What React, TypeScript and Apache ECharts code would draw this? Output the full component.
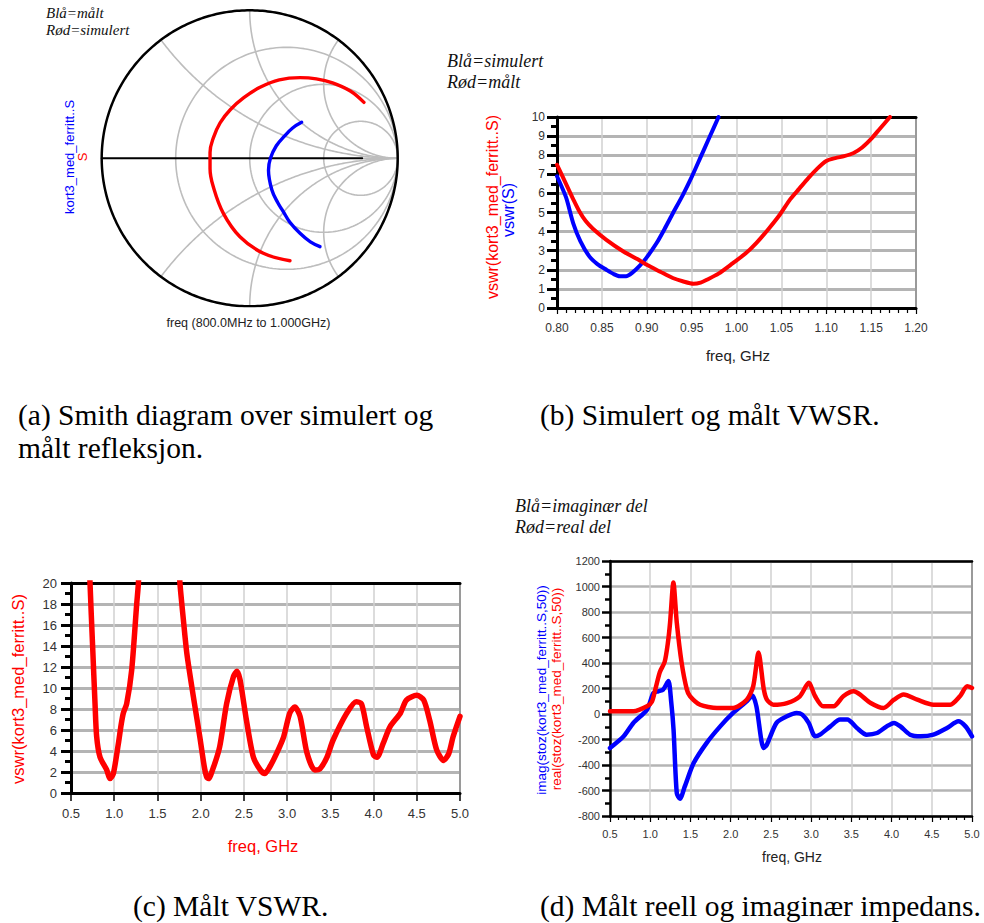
import React, { useEffect, useRef } from "react";
import * as echarts from "echarts";

// ---------------- data ----------------
// Smith chart grid values
const smithResistance = [1 / 3, 1, 3];
const smithReactance = [0.5, 1, 2];

// Smith chart traces, reflection coefficient [re, im]
const smithBlueMeasured: number[][] = [
  [0.351, 0.243], [0.29, 0.205], [0.235, 0.15], [0.18, 0.085], [0.14, 0.0],
  [0.127, -0.08], [0.15, -0.214], [0.19, -0.3], [0.227, -0.36], [0.27, -0.43],
  [0.34, -0.507], [0.41, -0.565], [0.475, -0.597],
];
const smithRedSimulated: number[][] = [
  [0.772, 0.378], [0.68, 0.455], [0.56, 0.51], [0.45, 0.537], [0.34, 0.545],
  [0.2, 0.53], [0.07, 0.48], [-0.04, 0.41], [-0.13, 0.33], [-0.2, 0.24],
  [-0.245, 0.14], [-0.268, 0.04], [-0.268, -0.07], [-0.246, -0.192],
  [-0.178, -0.372], [-0.066, -0.53], [0.092, -0.642], [0.272, -0.692],
];

// (b) VSWR 0.8 - 1.2 GHz, [freq GHz, vswr]
const vswrSimulated: number[][] = [
  [0.8, 6.9], [0.81, 5.8], [0.818, 4.45], [0.826, 3.5], [0.836, 2.7], [0.845, 2.3],
  [0.855, 2.0], [0.863, 1.78], [0.87, 1.66], [0.877, 1.66], [0.884, 1.85],
  [0.892, 2.2], [0.9, 2.65], [0.911, 3.4], [0.92, 4.15], [0.929, 4.95],
  [0.94, 5.9], [0.95, 6.85], [0.96, 7.9], [0.97, 8.95], [0.98, 10.0],
];
const vswrMeasuredB: number[][] = [
  [0.8, 7.5], [0.806, 6.9], [0.812, 6.3], [0.818, 5.7], [0.825, 5.05], [0.832, 4.55],
  [0.84, 4.15], [0.855, 3.57], [0.874, 2.96], [0.89, 2.55], [0.9, 2.26],
  [0.915, 1.9], [0.929, 1.57], [0.94, 1.4], [0.952, 1.27], [0.96, 1.33],
  [0.967, 1.48], [0.98, 1.8], [0.996, 2.35], [1.01, 2.85], [1.022, 3.4],
  [1.035, 4.1], [1.048, 4.87], [1.06, 5.7], [1.07, 6.25], [1.08, 6.8],
  [1.09, 7.3], [1.1, 7.7], [1.11, 7.85], [1.12, 7.95], [1.13, 8.1],
  [1.14, 8.4], [1.15, 8.85], [1.16, 9.4], [1.171, 10.0],
];

// (c) measured VSWR 0.5 - 5 GHz
const vswrMeasuredC: number[][] = [
  [0.7, 26], [0.72, 20], [0.75, 14], [0.778, 8.5], [0.797, 5.35], [0.836, 3.4],
  [0.913, 2.2], [0.951, 1.37], [0.99, 1.85], [1.048, 4.7], [1.08, 6.5],
  [1.105, 7.6], [1.144, 8.5], [1.202, 11.7], [1.26, 18], [1.28, 20], [1.3, 24],
  [1.73, 24], [1.76, 20], [1.8, 16.5], [1.84, 13.3], [1.915, 9.2], [1.99, 5.35],
  [2.04, 2.6], [2.07, 1.5], [2.09, 1.37], [2.15, 2.5], [2.22, 4.4], [2.3, 8.5],
  [2.38, 11.1], [2.42, 11.6], [2.455, 10.8], [2.53, 6.9], [2.61, 3.4],
  [2.69, 2.2], [2.74, 1.85], [2.8, 2.5], [2.88, 3.8], [2.96, 5.35], [3.03, 7.6],
  [3.09, 8.2], [3.15, 7.3], [3.23, 3.8], [3.32, 2.2], [3.38, 2.3], [3.46, 3.4],
  [3.53, 5.0], [3.69, 7.6], [3.8, 8.7], [3.86, 8.5], [3.92, 6.3], [4.0, 3.6],
  [4.04, 3.4], [4.11, 4.7], [4.19, 6.3], [4.31, 7.6], [4.38, 8.85], [4.5, 9.3],
  [4.58, 8.85], [4.65, 6.9], [4.73, 4.1], [4.81, 3.1], [4.87, 3.75],
  [4.92, 5.35], [5.0, 7.3],
];

// (d) measured impedance, ohm
const impedanceReal: number[][] = [
  [0.5, 21], [0.79, 21], [0.96, 60], [1.02, 95], [1.07, 210], [1.12, 330],
  [1.18, 410], [1.22, 560], [1.247, 718], [1.288, 1031], [1.33, 718],
  [1.39, 404], [1.454, 195], [1.495, 139], [1.62, 73], [1.83, 47], [2.03, 47],
  [2.2, 112], [2.28, 217], [2.346, 482], [2.41, 200], [2.45, 112], [2.53, 73],
  [2.7, 86], [2.86, 139], [2.97, 245], [3.05, 139], [3.15, 60], [3.28, 60],
  [3.4, 139], [3.53, 178], [3.61, 152], [3.74, 86], [3.9, 47], [4.03, 112],
  [4.15, 152], [4.32, 112], [4.52, 73], [4.73, 73], [4.85, 139], [4.94, 217],
  [5.0, 204],
];
const impedanceImag: number[][] = [
  [0.5, -267], [0.67, -175], [0.79, -70], [0.96, 34], [1.04, 165], [1.1, 178],
  [1.16, 191], [1.226, 258], [1.26, 100], [1.29, -123], [1.33, -620],
  [1.37, -665], [1.43, -568], [1.54, -385], [1.7, -228], [1.87, -97], [2.03, 8],
  [2.2, 99], [2.27, 145], [2.32, 60], [2.41, -267], [2.45, -240], [2.57, -70],
  [2.7, -18], [2.82, 8], [2.89, -5], [2.97, -70], [3.05, -175], [3.11, -162],
  [3.24, -97], [3.36, -44], [3.45, -44], [3.57, -110], [3.69, -162],
  [3.82, -149], [3.94, -97], [4.03, -70], [4.11, -97], [4.23, -162],
  [4.36, -175], [4.52, -162], [4.69, -110], [4.83, -57], [4.92, -97], [5.0, -175],
];

// ---------------- styling ----------------
const SANS = '"Liberation Sans", Arial, Helvetica, sans-serif';
const SERIF = '"Liberation Serif", "Times New Roman", serif';
const RED = "#ff0000";
const BLUE = "#0000ff";
const GRID_H = "#b4b4b4";
const GRID_V = "#d0d0d0";
const SMITH_GRID = "#bdbdbd";
const TICK_TXT = "#333333";

function circlePoints(cx: number, cy: number, r: number, a0: number, a1: number, n: number) {
  const pts: number[][] = [];
  for (let i = 0; i <= n; i++) {
    const a = a0 + ((a1 - a0) * i) / n;
    pts.push([cx + r * Math.cos(a), cy + r * Math.sin(a)]);
  }
  return pts;
}

function smithGrid() {
  const lines: number[][][] = [];
  smithResistance.forEach((r) => {
    lines.push(circlePoints(r / (1 + r), 0, 1 / (1 + r), 0, Math.PI * 2, 200));
  });
  smithReactance.forEach((x) => {
    const rad = 1 / x;
    const ui = (x * x - 1) / (x * x + 1);
    const vi = (2 * x) / (x * x + 1);
    const a0 = Math.atan2(vi - rad, ui - 1);
    let d = -Math.PI / 2 - a0;
    while (d > Math.PI) d -= 2 * Math.PI;
    while (d <= -Math.PI) d += 2 * Math.PI;
    const up = circlePoints(1, rad, rad, a0, a0 + d, 160);
    lines.push(up);
    lines.push(up.map((p) => [p[0], -p[1]]));
  });
  return lines;
}

function lineSeries(
  data: number[][],
  color: string,
  width: number,
  xi: number,
  yi: number,
  z = 3,
  smooth: number | boolean = false
) {
  return {
    type: "line",
    data,
    xAxisIndex: xi,
    yAxisIndex: yi,
    showSymbol: false,
    symbol: "none",
    smooth,
    clip: true,
    silent: true,
    z,
    lineStyle: { color, width, cap: "round", join: "round" },
  };
}

function bottomAxis(o: any) {
  return {
    type: "value",
    gridIndex: o.grid,
    min: o.min,
    max: o.max,
    interval: o.interval,
    position: "bottom",
    axisLine: { show: true, onZero: false, lineStyle: { color: "#000", width: o.lineWidth } },
    axisTick: { show: true, length: o.tickLen, lineStyle: { color: "#000", width: o.tickWidth } },
    minorTick: {
      show: !!o.minor,
      splitNumber: o.minor || 5,
      length: o.minorLen || 4,
      lineStyle: { color: "#000", width: o.tickWidth },
    },
    axisLabel: {
      show: true,
      margin: o.margin,
      fontSize: o.fontSize,
      fontFamily: SANS,
      color: TICK_TXT,
      showMinLabel: true,
      showMaxLabel: true,
      formatter: (v: number) => v.toFixed(o.decimals),
    },
    splitLine: { show: true, lineStyle: { color: GRID_V, width: 1.5 } },
  };
}

function leftAxis(o: any) {
  return {
    type: "value",
    gridIndex: o.grid,
    min: o.min,
    max: o.max,
    interval: o.interval,
    position: "left",
    axisLine: { show: true, onZero: false, lineStyle: { color: "#000", width: o.lineWidth } },
    axisTick: { show: true, length: o.tickLen, lineStyle: { color: "#000", width: o.tickWidth } },
    minorTick: {
      show: true,
      splitNumber: 2,
      length: o.minorLen,
      lineStyle: { color: "#000", width: o.tickWidth },
    },
    axisLabel: {
      show: true,
      margin: o.margin,
      fontSize: o.fontSize,
      fontFamily: SANS,
      color: TICK_TXT,
      showMinLabel: true,
      showMaxLabel: true,
      formatter: (v: number) => String(Math.round(v)),
    },
    splitLine: { show: true, lineStyle: { color: GRID_H, width: o.splitWidth } },
  };
}

function borderAxis(kind: "x" | "y", grid: number, min: number, max: number, color: string, width: number) {
  return {
    type: "value",
    gridIndex: grid,
    min,
    max,
    position: kind === "x" ? "top" : "right",
    axisLine: { show: true, onZero: false, lineStyle: { color, width } },
    axisTick: { show: false },
    axisLabel: { show: false },
    splitLine: { show: false },
  };
}

function text(t: string, x: number, y: number, s: any, extra: any = {}) {
  return {
    type: "text",
    x,
    y,
    silent: true,
    ...extra,
    style: {
      text: t,
      fontFamily: SANS,
      fill: "#000",
      align: "left",
      verticalAlign: "middle",
      ...s,
    },
  };
}

export default function App() {
  const ref = useRef<HTMLDivElement>(null);

  useEffect(() => {
    document.body.style.margin = "0";
    if (!ref.current) return;
    const chart = echarts.init(ref.current, undefined, { renderer: "svg" });

    const grids = [
      { left: 101.7, top: 10.3, width: 296, height: 296 },
      { left: 557, top: 117, width: 359, height: 191 },
      { left: 71, top: 583, width: 389, height: 210 },
      { left: 610, top: 561, width: 362, height: 255 },
    ].map((g) => ({ ...g, containLabel: false, outerBoundsMode: "none", show: false }));

    const xAxis = [
      { type: "value", gridIndex: 0, min: -1, max: 1, show: false },
      bottomAxis({ grid: 1, min: 0.8, max: 1.2, interval: 0.05, lineWidth: 3, tickLen: 6, tickWidth: 1.2, minor: 5, minorLen: 5, margin: 14, fontSize: 12, decimals: 2 }),
      borderAxis("x", 1, 0.8, 1.2, "#000", 3),
      bottomAxis({ grid: 2, min: 0.5, max: 5, interval: 0.5, lineWidth: 3, tickLen: 8, tickWidth: 1.5, minor: 0, margin: 14, fontSize: 13, decimals: 1 }),
      borderAxis("x", 2, 0.5, 5, "#000", 3),
      bottomAxis({ grid: 3, min: 0.5, max: 5, interval: 0.5, lineWidth: 2.5, tickLen: 6, tickWidth: 1.2, minor: 5, minorLen: 4, margin: 12, fontSize: 11, decimals: 1 }),
      borderAxis("x", 3, 0.5, 5, "#000", 2.5),
    ];
    const yAxis = [
      { type: "value", gridIndex: 0, min: -1, max: 1, show: false },
      leftAxis({ grid: 1, min: 0, max: 10, interval: 1, lineWidth: 3, tickLen: 10, tickWidth: 3, minorLen: 6, margin: 12, fontSize: 12, splitWidth: 3 }),
      borderAxis("y", 1, 0, 10, "#9a9a9a", 2),
      leftAxis({ grid: 2, min: 0, max: 20, interval: 2, lineWidth: 3, tickLen: 10, tickWidth: 3, minorLen: 6, margin: 14, fontSize: 13, splitWidth: 3 }),
      borderAxis("y", 2, 0, 20, "#9a9a9a", 2),
      leftAxis({ grid: 3, min: -800, max: 1200, interval: 200, lineWidth: 2.5, tickLen: 8, tickWidth: 2.5, minorLen: 5, margin: 10, fontSize: 11, splitWidth: 2.5 }),
      borderAxis("y", 3, -800, 1200, "#9a9a9a", 2),
    ];

    const series: any[] = [];
    smithGrid().forEach((pts) => series.push(lineSeries(pts, SMITH_GRID, 1.6, 0, 0, 1)));
    series.push(lineSeries([[0.76, 0], [1, 0]], SMITH_GRID, 1.6, 0, 0, 1));
    series.push(lineSeries([[-1, 0], [0.76, 0]], "#000", 2, 0, 0, 2));
    series.push(lineSeries(circlePoints(0, 0, 1, 0, Math.PI * 2, 360), "#000", 2.5, 0, 0, 2));
    series.push(lineSeries(smithRedSimulated, RED, 3.4, 0, 0, 3, 0.4));
    series.push(lineSeries(smithBlueMeasured, BLUE, 3.4, 0, 0, 3, 0.4));

    series.push(lineSeries(vswrSimulated, BLUE, 4, 1, 1, 3, 0.25));
    series.push(lineSeries(vswrMeasuredB, RED, 4, 1, 1, 4, 0.25));

    series.push(lineSeries(vswrMeasuredC, RED, 5.5, 3, 3, 3, 0.25));

    series.push(lineSeries(impedanceImag, BLUE, 4.5, 5, 5, 3, 0.25));
    series.push(lineSeries(impedanceReal, RED, 4.5, 5, 5, 4, 0.25));

    const R90 = { rotation: Math.PI / 2 };
    const CAP = { fontFamily: SERIF, fontSize: 29.5 };
    const NOTE = { fontFamily: SERIF, fontStyle: "italic", fill: "#111" };
    const graphic = [
      // panel a
      text("Blå=målt", 46, 12.5, { ...NOTE, fontSize: 15 }),
      text("Rød=simulert", 46, 30, { ...NOTE, fontSize: 15 }),
      text("kort3_med_ferritt..S", 69, 157, { fontSize: 13, fill: BLUE, align: "center" }, R90),
      text("S", 82, 157, { fontSize: 13, fill: RED, align: "center" }, R90),
      text("freq (800.0MHz to 1.000GHz)", 248.5, 323, { fontSize: 12.5, fill: "#222", align: "center" }),
      // panel b
      text("Blå=simulert", 447, 61, { ...NOTE, fontSize: 18 }),
      text("Rød=målt", 447, 82, { ...NOTE, fontSize: 18 }),
      text("vswr(kort3_med_ferritt..S)", 492, 207, { fontSize: 16, fill: RED, align: "center" }, R90),
      text("vswr(S)", 508, 210, { fontSize: 16, fill: BLUE, align: "center" }, R90),
      text("freq, GHz", 738, 355, { fontSize: 15, fill: "#222", align: "center" }),
      // panel c
      text("vswr(kort3_med_ferritt..S)", 18, 689, { fontSize: 16.5, fill: RED, align: "center" }, R90),
      text("freq, GHz", 263, 846, { fontSize: 16.5, fill: RED, align: "center" }),
      // panel d
      text("Blå=imaginær del", 515, 506, { ...NOTE, fontSize: 18 }),
      text("Rød=real del", 515, 527, { ...NOTE, fontSize: 18 }),
      text("imag(stoz(kort3_med_ferritt..S,50))", 541.5, 690, { fontSize: 13.5, fill: BLUE, align: "center" }, R90),
      text("real(stoz(kort3_med_ferritt..S,50))", 556.5, 689, { fontSize: 13.5, fill: RED, align: "center" }, R90),
      text("freq, GHz", 792, 857, { fontSize: 14, fill: "#222", align: "center" }),
      // captions
      text("(a) Smith diagram over simulert og", 18, 415, CAP),
      text("målt refleksjon.", 18, 448, CAP),
      text("(b) Simulert og målt VWSR.", 540, 415, CAP),
      text("(c) Målt VSWR.", 133, 906, CAP),
      text("(d) Målt reell og imaginær impedans.", 540, 906, CAP),
    ];

    chart.setOption({
      animation: false,
      backgroundColor: "#ffffff",
      grid: grids,
      xAxis,
      yAxis,
      series,
      graphic,
    });

    return () => chart.dispose();
  }, []);

  return (
    <div
      ref={ref}
      style={{ position: "absolute", left: 0, top: 0, width: 984, height: 923 }}
    />
  );
}
